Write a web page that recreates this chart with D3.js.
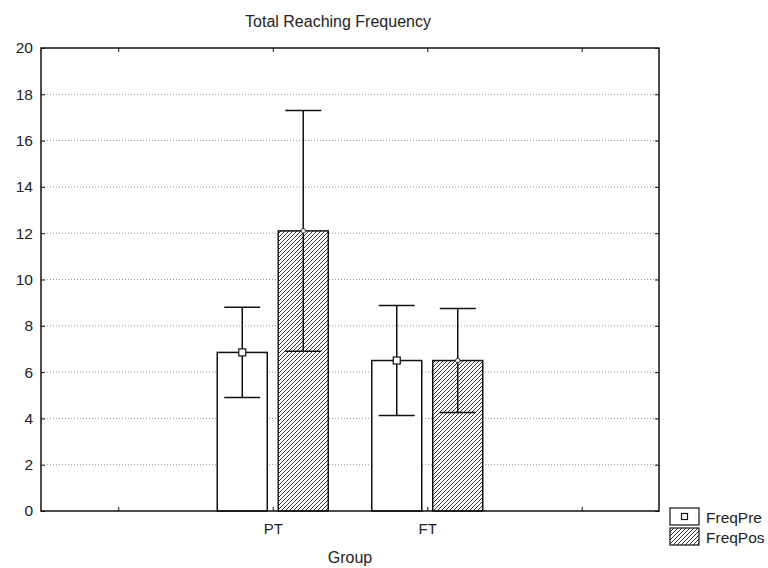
<!DOCTYPE html>
<html>
<head>
<meta charset="utf-8">
<script src="https://cdn.jsdelivr.net/npm/d3@7"></script>
<style>
  html, body { margin: 0; padding: 0; background: #fff; }
  svg { display: block; font-family: "Liberation Sans", Arial, sans-serif; }
</style>
</head>
<body>
<svg id="chart" width="768" height="568"></svg>
<script>
// ---- data ----
const title = "Total Reaching Frequency";
const xTitle = "Group";
const groups = ["PT", "FT"];
const seriesNames = ["FreqPre", "FreqPos"];
const freqPreMean = [6.85, 6.5];
const freqPreErr  = [1.95, 2.38];
const freqPosMean = [12.1, 6.5];
const freqPosErr  = [5.2, 2.25];
const yTickValues = [0, 2, 4, 6, 8, 10, 12, 14, 16, 18, 20];

// ---- layout ----
const W = 768, H = 568;
const plot = { left: 41, right: 659, top: 48, bottom: 511 };
const svg = d3.select("#chart");
svg.append("rect").attr("width", W).attr("height", H).attr("fill", "#fff");

const defs = svg.append("defs");
const pat = defs.append("pattern")
  .attr("id", "hatch").attr("patternUnits", "userSpaceOnUse")
  .attr("width", 4).attr("height", 4);
pat.append("rect").attr("width", 4).attr("height", 4).attr("fill", "#fff");
pat.append("path").attr("d", "M-1,1 l2,-2 M0,4 l4,-4 M3,5 l2,-2")
  .attr("stroke", "#333").attr("stroke-width", 1);

// slots: empty, PT, FT, empty
const slots = ["_a", ...groups, "_b"];
const x = d3.scaleBand().domain(slots).range([plot.left, plot.right]).padding(0);
const xc = d => x(d) + x.bandwidth() / 2;
const xInner = d3.scaleBand().domain(seriesNames).range([-55.5, 55.5]).paddingInner(0.18);
const y = d3.scaleLinear().domain([0, 20]).range([plot.bottom, plot.top]);

// grid
svg.append("g").selectAll("line")
  .data(yTickValues.filter(v => v > 0 && v < 20))
  .join("line")
  .attr("x1", plot.left).attr("x2", plot.right)
  .attr("y1", d => y(d)).attr("y2", d => y(d))
  .attr("stroke", "#9a9a9a").attr("stroke-width", 1)
  .attr("stroke-dasharray", "1,2");

// bars data
const rows = [];
groups.forEach((g, i) => {
  rows.push({ g, s: "FreqPre", m: freqPreMean[i], e: freqPreErr[i] });
  rows.push({ g, s: "FreqPos", m: freqPosMean[i], e: freqPosErr[i] });
});

const bars = svg.append("g");
bars.selectAll("rect").data(rows).join("rect")
  .attr("x", d => xc(d.g) + xInner(d.s))
  .attr("width", xInner.bandwidth())
  .attr("y", d => y(d.m))
  .attr("height", d => y(0) - y(d.m))
  .attr("fill", d => d.s === "FreqPre" ? "#fff" : "url(#hatch)")
  .attr("stroke", "#111").attr("stroke-width", 1.5);

// error bars
const eb = svg.append("g").attr("stroke", "#111").attr("stroke-width", 1.5);
const cx = d => xc(d.g) + xInner(d.s) + xInner.bandwidth() / 2;
eb.selectAll("line.v").data(rows).join("line").attr("class", "v")
  .attr("x1", cx).attr("x2", cx)
  .attr("y1", d => y(d.m + d.e)).attr("y2", d => y(d.m - d.e));
eb.selectAll("line.t").data(rows).join("line").attr("class", "t")
  .attr("x1", d => cx(d) - 18).attr("x2", d => cx(d) + 18)
  .attr("y1", d => y(d.m + d.e)).attr("y2", d => y(d.m + d.e));
eb.selectAll("line.b").data(rows).join("line").attr("class", "b")
  .attr("x1", d => cx(d) - 18).attr("x2", d => cx(d) + 18)
  .attr("y1", d => y(d.m - d.e)).attr("y2", d => y(d.m - d.e));

// markers
svg.append("g").selectAll("rect").data(rows.filter(d => d.s === "FreqPre")).join("rect")
  .attr("x", d => cx(d) - 3.5).attr("y", d => y(d.m) - 3.5)
  .attr("width", 7).attr("height", 7)
  .attr("fill", "#fff").attr("stroke", "#111").attr("stroke-width", 1.2);
svg.append("g").selectAll("circle").data(rows.filter(d => d.s === "FreqPos")).join("circle")
  .attr("cx", cx).attr("cy", d => y(d.m)).attr("r", 2.2)
  .attr("fill", "#fff").attr("stroke", "#333").attr("stroke-width", 1);

// axes
const tickVals = slots.map(xc);
const xLin = d3.scaleLinear().domain([plot.left, plot.right]).range([plot.left, plot.right]);
const fontSize = 15;

const gl = svg.append("g").attr("transform", `translate(${plot.left},0)`)
  .call(d3.axisLeft(y).tickValues(yTickValues).tickSize(-4).tickSizeOuter(0).tickPadding(8));
gl.select(".domain").remove();
gl.selectAll("text").attr("font-size", 15.5).attr("fill", "#222").attr("font-family", "Liberation Sans, Arial, sans-serif");
gl.selectAll("line").attr("stroke", "#111");

const gr = svg.append("g").attr("transform", `translate(${plot.right},0)`)
  .call(d3.axisRight(y).tickValues(yTickValues).tickSize(-4).tickSizeOuter(0).tickFormat(""));
gr.select(".domain").remove();
gr.selectAll("line").attr("stroke", "#111");

const gt = svg.append("g").attr("transform", `translate(0,${plot.top})`)
  .call(d3.axisTop(xLin).tickValues(tickVals).tickSize(-4).tickSizeOuter(0).tickFormat(""));
gt.select(".domain").remove();
gt.selectAll("line").attr("stroke", "#111");

const labelOf = {};
slots.forEach(s => { labelOf[xc(s)] = groups.includes(s) ? s : ""; });
const gb = svg.append("g").attr("transform", `translate(0,${plot.bottom})`)
  .call(d3.axisBottom(xLin).tickValues(tickVals).tickSize(-4).tickSizeOuter(0)
    .tickPadding(12).tickFormat(v => labelOf[v]));
gb.select(".domain").remove();
gb.selectAll("text").attr("font-size", fontSize).attr("fill", "#222").attr("font-family", "Liberation Sans, Arial, sans-serif");
gb.selectAll("line").attr("stroke", "#111");

// frame
svg.append("rect")
  .attr("x", plot.left).attr("y", plot.top)
  .attr("width", plot.right - plot.left).attr("height", plot.bottom - plot.top)
  .attr("fill", "none").attr("stroke", "#111").attr("stroke-width", 1.5);

// titles
svg.append("text").attr("x", 338).attr("y", 27).attr("text-anchor", "middle")
  .attr("font-size", 16).attr("fill", "#222").text(title);
svg.append("text").attr("x", (plot.left + plot.right) / 2).attr("y", 563).attr("text-anchor", "middle")
  .attr("font-size", 16).attr("fill", "#222").text(xTitle);

// legend
const lg = svg.append("g").attr("transform", "translate(670,508)");
const li = lg.selectAll("g").data(seriesNames).join("g")
  .attr("transform", (d, i) => `translate(0,${i * 20})`);
li.append("rect").attr("width", 29).attr("height", 17)
  .attr("fill", d => d === "FreqPre" ? "#fff" : "url(#hatch)")
  .attr("stroke", "#111").attr("stroke-width", 1.2);
li.filter(d => d === "FreqPre").append("rect")
  .attr("x", 11.5).attr("y", 5.5).attr("width", 6).attr("height", 6)
  .attr("fill", "#fff").attr("stroke", "#111").attr("stroke-width", 1.2);
li.append("text").attr("x", 36).attr("y", 14.5)
  .attr("font-size", 15.5).attr("fill", "#222").text(d => d);
</script>
</body>
</html>
